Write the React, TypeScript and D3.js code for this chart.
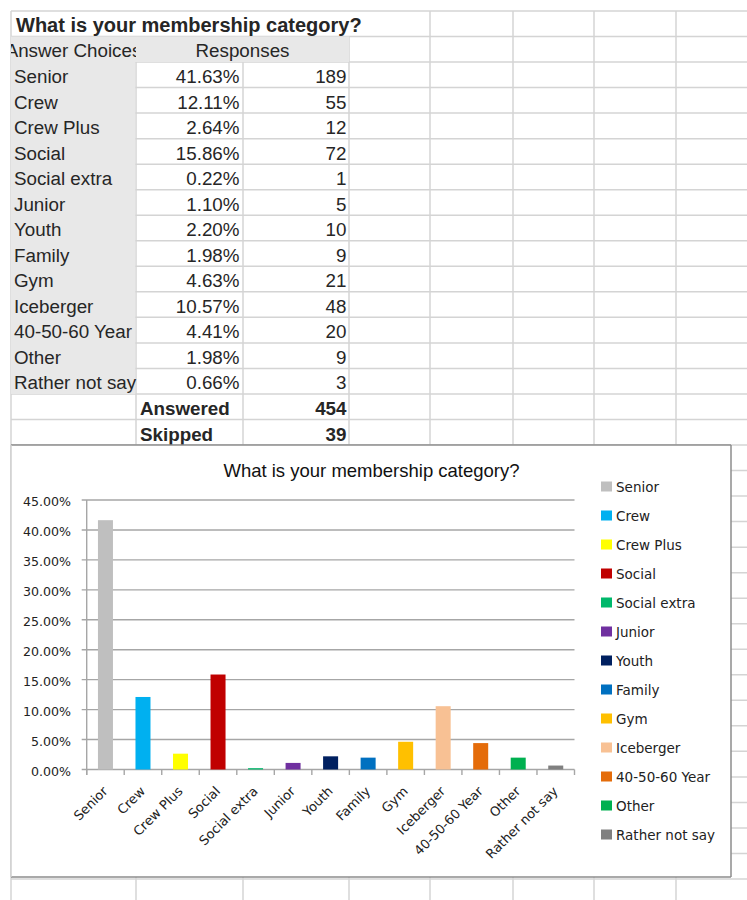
import React from "react";
import * as d3 from "d3";

const categories = [
  "Senior", "Crew", "Crew Plus", "Social", "Social extra", "Junior", "Youth",
  "Family", "Gym", "Iceberger", "40-50-60 Year", "Other", "Rather not say",
];
const percents = [41.63, 12.11, 2.64, 15.86, 0.22, 1.1, 2.2, 1.98, 4.63, 10.57, 4.41, 1.98, 0.66];
const counts = [189, 55, 12, 72, 1, 5, 10, 9, 21, 48, 20, 9, 3];
const summaryLabels = ["Answered", "Skipped"];
const summaryValues = [454, 39];
const yTicks = [0, 0.05, 0.1, 0.15, 0.2, 0.25, 0.3, 0.35, 0.4, 0.45];
const palette = [
  "#BFBFBF", "#00B0F0", "#FFFF00", "#C00000", "#00B86B", "#7030A0", "#002060",
  "#0070C0", "#FFC000", "#F8C194", "#E46C0A", "#00B050", "#808080",
];
const title = "What is your membership category?";

const W = 747;
const H = 900;
const ROW_H = 25.53;
const TOP = 11;
const colX = [11, 136, 243, 349, 430, 513, 594, 676, 757];
const rowY = (i: number) => TOP + ROW_H * i;
const GRID = "#d4d4d4";
const TXT = "#262626";
const ARIAL = "'Liberation Sans', Arial, sans-serif";
const CAL = "'DejaVu Sans', sans-serif";
const TFS = 18.8;

export default function App() {
  const nRows = Math.ceil((H - TOP) / ROW_H) + 1;

  // chart geometry
  const chart = { x: 11, y: 445, w: 720, h: 432 };
  const x = d3
    .scaleBand<string>()
    .domain(categories)
    .range([86.7, 574.5])
    .paddingInner(0.6)
    .paddingOuter(0.3);
  const y = d3.scaleLinear().domain([0, 0.45]).range([769.5, 500]);
  const fmt = d3.format(".2%");
  const step = x.step();
  const x0 = 86.7;
  const bounds = d3.range(categories.length + 1).map((k) => x0 + k * step);

  const hLines = d3.range(nRows).map((i) => rowY(i));

  return (
    <svg
      width={W}
      height={H}
      style={{ position: "absolute", left: 0, top: 0, background: "#fff" }}
    >
      <defs>
        <clipPath id="clipA">
          <rect x={11} y={rowY(1)} width={125} height={ROW_H} />
        </clipPath>
      </defs>
      {/* spreadsheet grid */}
      <g stroke={GRID} strokeWidth={1.5}>
        {hLines.map((yy, i) => (
          <line key={"h" + i} x1={11} x2={W} y1={yy} y2={yy} />
        ))}
        {colX.map((cx, j) => (
          <line
            key={"v" + j}
            x1={cx}
            x2={cx}
            y1={j >= 1 && j <= 3 ? rowY(1) : rowY(0)}
            y2={H}
          />
        ))}
      </g>
      {/* gray header fills */}
      <rect x={11} y={rowY(1)} width={colX[3] - 11} height={ROW_H} fill="#e8e8e8" />
      <rect x={11} y={rowY(2)} width={colX[1] - 11.7} height={ROW_H * 13} fill="#e8e8e8" />

      {/* table text */}
      <text x={16} y={31.5} fontFamily={ARIAL} fontWeight="bold" fontSize={20} fill={TXT}>
        {title}
      </text>
      <g clipPath="url(#clipA)">
        <text x={73.5} y={56.7} textAnchor="middle" fontFamily={ARIAL} fontSize={TFS} fill={TXT}>
          Answer Choices
        </text>
      </g>
      <text x={242.5} y={56.7} textAnchor="middle" fontFamily={ARIAL} fontSize={TFS} fill={TXT}>
        Responses
      </text>
      {categories.map((c, i) => {
        const base = rowY(i + 3) - 4.5;
        return (
          <g key={"r" + i} fontFamily={ARIAL} fontSize={TFS} fill={TXT}>
            <text x={14} y={base}>{c}</text>
            <text x={239.5} y={base} textAnchor="end">
              {percents[i].toFixed(2)}%
            </text>
            <text x={346.5} y={base} textAnchor="end">
              {counts[i]}
            </text>
          </g>
        );
      })}
      {summaryLabels.map((s, i) => {
        const base = rowY(16 + i) - 4.3;
        return (
          <g key={"s" + i} fontFamily={ARIAL} fontSize={TFS} fontWeight="bold" fill={TXT}>
            <text x={140} y={base}>{s}</text>
            <text x={346.5} y={base} textAnchor="end">
              {summaryValues[i]}
            </text>
          </g>
        );
      })}

      {/* chart object */}
      <rect x={chart.x} y={chart.y} width={chart.w} height={chart.h} fill="#fff" />
      <line x1={chart.x} x2={chart.x + chart.w} y1={chart.y} y2={chart.y} stroke="#8c8c8c" strokeWidth={1.5} />
      <line x1={chart.x + chart.w} x2={chart.x + chart.w} y1={chart.y} y2={chart.y + chart.h} stroke="#8c8c8c" strokeWidth={1.5} />
      <line x1={chart.x} x2={chart.x + chart.w} y1={chart.y + chart.h} y2={chart.y + chart.h} stroke="#8c8c8c" strokeWidth={1.5} />
      <line x1={chart.x} x2={chart.x} y1={chart.y} y2={chart.y + chart.h} stroke="#cfcfcf" strokeWidth={1.5} />

      <text x={371.5} y={476.5} textAnchor="middle" fontFamily={ARIAL} fontSize={18.5} fill="#111">
        {title}
      </text>

      {/* gridlines + y labels */}
      <g>
        {yTicks.map((t, i) => (
          <g key={"y" + i}>
            <line x1={81.7} x2={574.5} y1={y(t)} y2={y(t)} stroke="#a6a6a6" strokeWidth={1.4} />
            <text x={71} y={y(t) + 6} textAnchor="end" fontFamily={CAL} fontSize={12.6} fill="#222">
              {fmt(t)}
            </text>
          </g>
        ))}
        <line x1={x0} x2={x0} y1={y(0.45)} y2={y(0) + 5.5} stroke="#a6a6a6" strokeWidth={1.4} />
        {bounds.map((bx, i) => (
          <line key={"t" + i} x1={bx} x2={bx} y1={y(0)} y2={y(0) + 5.5} stroke="#a6a6a6" strokeWidth={1.4} />
        ))}
      </g>

      {/* bars */}
      {categories.map((c, i) => (
        <rect
          key={"b" + i}
          x={x(c)}
          y={y(percents[i] / 100)}
          width={x.bandwidth()}
          height={y(0) - y(percents[i] / 100)}
          fill={palette[i]}
        />
      ))}

      {/* x labels */}
      {categories.map((c, i) => {
        const cx = (x(c) as number) + x.bandwidth() / 2 + 3;
        const cy = 792;
        return (
          <text
            key={"xl" + i}
            x={cx}
            y={cy}
            transform={`rotate(-45 ${cx} ${cy})`}
            textAnchor="end"
            fontFamily={CAL}
            fontSize={13}
            fill="#222"
          >
            {c}
          </text>
        );
      })}

      {/* legend */}
      {categories.map((c, i) => {
        const cy = 486.5 + i * 29;
        return (
          <g key={"lg" + i}>
            <rect x={601} y={cy - 5} width={11} height={10} fill={palette[i]} />
            <text x={616} y={cy + 5} fontFamily={CAL} fontSize={13.5} fill="#222">
              {c}
            </text>
          </g>
        );
      })}
    </svg>
  );
}
